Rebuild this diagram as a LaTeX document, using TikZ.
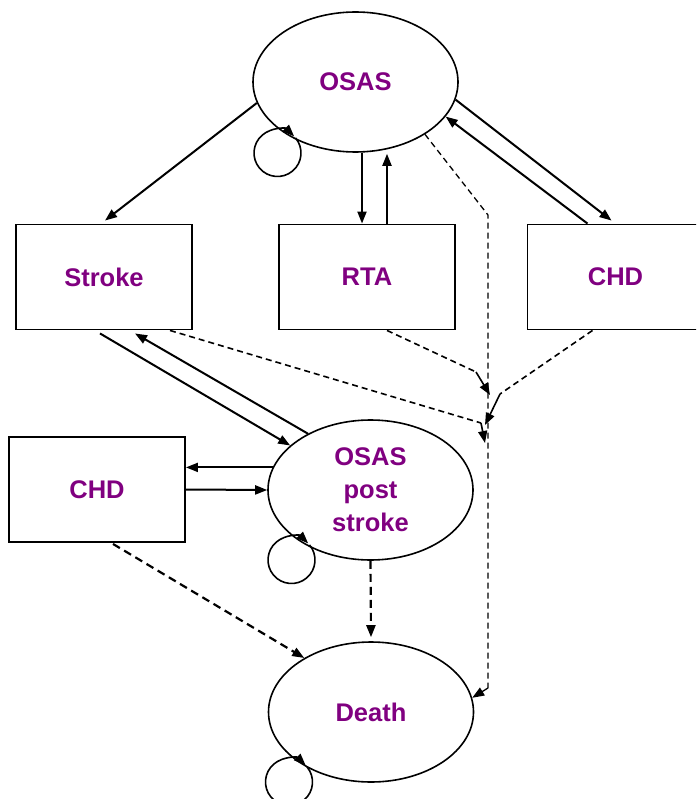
\documentclass[tikz,border=0pt]{standalone}
\usepackage{fontspec}
\setmainfont{Liberation Sans}
\usetikzlibrary{arrows.meta,shapes.geometric,calc}
\definecolor{txt}{HTML}{800080}
\begin{document}
\begin{tikzpicture}[x=1pt,y=1pt,
  lbl/.style={font=\bfseries\fontsize{25.5}{33}\selectfont,text=txt,align=center},
  oval/.style={lbl,draw,line width=1.6pt,ellipse,minimum width=205pt,minimum height=140pt,inner sep=0pt},
  boxn/.style={lbl,draw,line width=1.9pt,rectangle,minimum width=176pt,minimum height=105pt,inner sep=0pt},
  arr/.style={line width=2pt,-{Triangle[length=12pt,width=9pt]}},
  tip/.style={-{Triangle[length=12pt,width=9pt]}},
  dsh/.style={line width=1.6pt,dash pattern=on 6pt off 4pt},
  dshthin/.style={line width=1.3pt,dash pattern=on 6pt off 4pt},
  dshthick/.style={line width=2.2pt,dash pattern=on 8pt off 5pt,-{Triangle[length=12pt,width=9pt]}}
]
\useasboundingbox (0,0) rectangle (696,-799);
\clip (0,0) rectangle (696,-799);

% nodes
\node[oval] (osas) at (355.5,-82) {OSAS};
\node[boxn] (stroke) at (104,-277) {Stroke};
\node[boxn] (rta) at (367,-277) {RTA};
\node[boxn] (chdr) at (615.5,-277) {CHD};
\node[boxn] (chdl) at (97,-489.5) {CHD};
\node[oval] (post) at (370.5,-490) {OSAS\\post\\stroke};
\node[oval] (death) at (371,-712) {Death};

% self loops
\coordinate (lo1) at (277.5,-153);
\coordinate (lo2) at (291.5,-560);
\coordinate (lo3) at (289,-782);
\foreach \c in {lo1,lo2,lo3}
  \draw[arr,line width=1.6pt] ($(\c)+(40:23.5)$) arc[start angle=40,end angle=-315,radius=23.5];

% solid connectors
\draw[arr] (osas.192.8) -- ([xshift=1pt,yshift=3pt]stroke.north);
\draw[arr] ([xshift=6.5pt]osas.south) -- ([xshift=-5pt]rta.north);
\draw[arr] ([xshift=20pt]rta.north) -- ([xshift=31.5pt,yshift=-1pt]osas.south);
\draw[arr] (osas.350) -- ([xshift=-4pt,yshift=3pt]chdr.north);
\draw[arr] ([xshift=-28pt]chdr.north) -- (osas.339);
\draw[arr] ([xshift=-4pt,yshift=-3pt]stroke.south) -- (post.151);
\draw[arr] (post.138) -- ([xshift=31pt,yshift=-3pt]stroke.south);
\draw[arr] (post.167) -- (post.167 -| chdl.east);
\draw[arr] (chdl.east) -- (post.west);

% dashed connectors
\coordinate (ja) at (488,-215);
\coordinate (jb) at (488,-688);
\draw[dshthin] (osas.323) -- (ja) -- (jb);
\draw[line width=1.3pt,tip] (jb) -- (death.8);

\coordinate (jr) at (476,-372);
\coordinate (jrt) at (490,-395);
\draw[dsh] ([xshift=20pt]rta.south) -- (jr);
\draw[line width=1.6pt,tip] (jr) -- (jrt);

\coordinate (jc) at (500,-394);
\coordinate (jct) at (485,-425);
\draw[dsh] ([xshift=-23pt]chdr.south) -- (jc);
\draw[line width=1.6pt,tip] (jc) -- (jct);

\coordinate (js) at (481,-423);
\coordinate (jst) at (485,-443);
\draw[dsh] ([xshift=66pt]stroke.south) -- (js);
\draw[line width=1.6pt,tip] (js) -- (jst);

\draw[dshthick] (post.south) -- ([yshift=4pt]death.north);
\draw[dshthick] ([xshift=16pt,yshift=-1pt]chdl.south) -- (death.141);
\end{tikzpicture}
\end{document}
